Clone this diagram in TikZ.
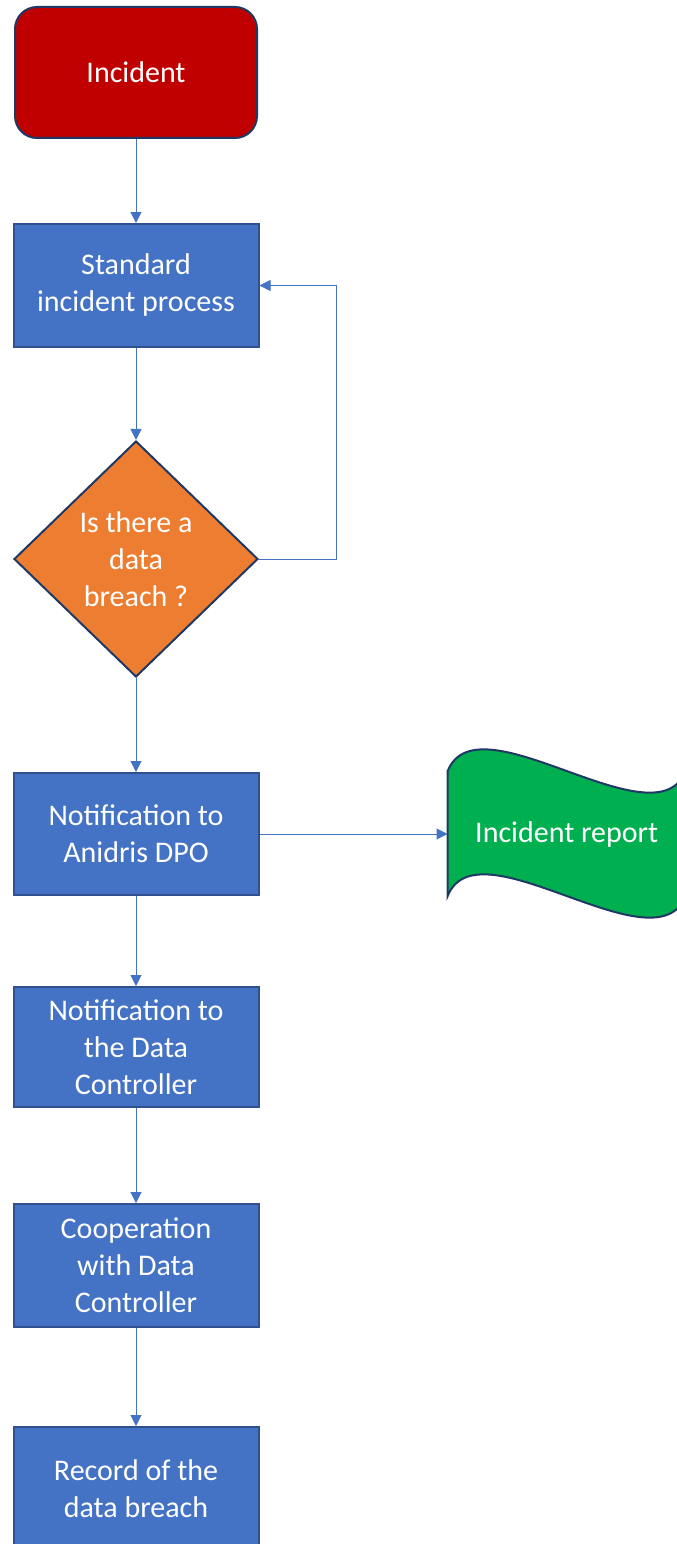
\documentclass[tikz,border=0pt]{standalone}
\usepackage{fontspec}
\setmainfont{Carlito}
\usepackage{xcolor}
\usepackage{tikz}
\usetikzlibrary{positioning, arrows.meta, shapes.geometric, backgrounds}

\definecolor{incidentred}{HTML}{C00000}
\definecolor{stepblue}{HTML}{4472C4}
\definecolor{stepedge}{HTML}{2F528F}
\definecolor{navyedge}{HTML}{1F3864}
\definecolor{decisionorange}{HTML}{ED7D31}
\definecolor{reportgreen}{HTML}{00B050}

\begin{document}
\begin{tikzpicture}[
    x=1pt, y=1pt,
    font=\fontsize{30}{37}\selectfont,
    base/.style={
        text=white,
        align=center,
        line width=2pt,
        inner sep=4pt
    },
    start/.style   ={base, rectangle, rounded corners=22pt, draw=navyedge,
                     fill=incidentred, minimum width=242pt, minimum height=131pt},
    stepbox/.style ={base, rectangle, draw=stepedge, fill=stepblue,
                     minimum width=245pt, minimum height=123pt},
    decision/.style={base, diamond, aspect=1.03, inner sep=0pt, draw=navyedge,
                     fill=decisionorange, minimum width=244pt, minimum height=236pt},
    report/.style  ={text=white, align=center, minimum width=238pt, minimum height=125pt},
    tape/.style    ={draw=navyedge, line width=2pt, fill=reportgreen},
    arr/.style={-{Triangle[length=11pt, width=11pt]}, line width=1pt, stepblue}
]
\useasboundingbox (0,0) rectangle (677,-1544);

\node[start] (incident) at (136,-72.5) {Incident};

\node[stepbox, below=84pt of incident] (standard)
    {Standard\\incident process};

\node[decision, below=92pt of standard] (breach)
    {Is there a\\data\\breach ?};

\node[stepbox, minimum height=122pt, below=94pt of breach] (dpo)
    {Notification to\\Anidris DPO};

\node[report, right=188pt of dpo] (increport) {Incident report};

\node[stepbox, minimum height=120pt, below=90pt of dpo] (controller)
    {Notification to\\the Data\\Controller};

\node[stepbox, below=95pt of controller] (cooperation)
    {Cooperation\\with Data\\Controller};

\node[stepbox, below=98pt of cooperation] (record)
    {Record of the\\data breach};

% wavy document outline behind the report text
\begin{pgfonlayer}{background}
\draw[tape, shift={(increport.center)}]
    (-119,63) .. controls (-89,138) and (89,-12) .. (119,63)
    -- (119,-62) .. controls (89,-137) and (-89,13) .. (-119,-62)
    -- cycle;
\end{pgfonlayer}

\draw[arr] (incident)    -- (standard);
\draw[arr] (standard)    -- (breach);
\draw[arr] (breach.east) -- ++(77,0) |- (standard.east);
\draw[arr] (breach)      -- (dpo);
\draw[arr] (dpo)         -- (increport);
\draw[arr] (dpo)         -- (controller);
\draw[arr] (controller)  -- (cooperation);
\draw[arr] (cooperation) -- (record);
\end{tikzpicture}
\end{document}
